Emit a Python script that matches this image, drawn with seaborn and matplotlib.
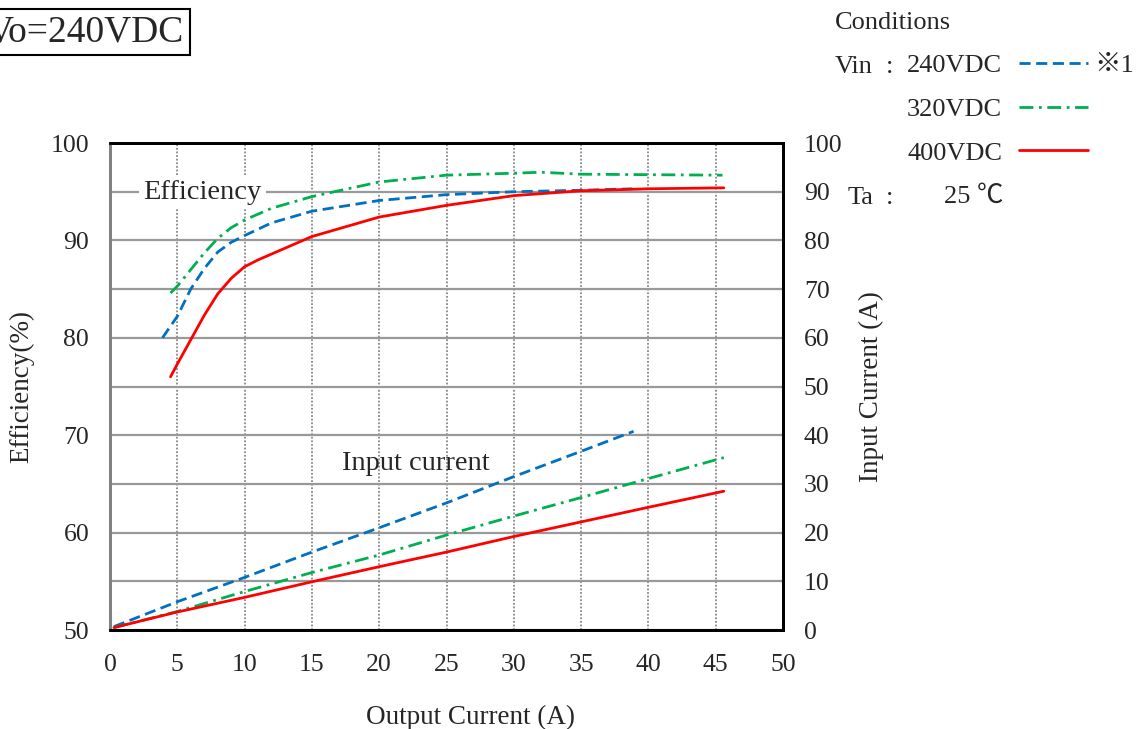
import matplotlib
matplotlib.use("Agg")
import matplotlib.pyplot as plt
import seaborn as sns
import pandas as pd
from matplotlib.ticker import MultipleLocator

# efficiency curves (output current A -> efficiency %)
eff240_x = [3.9, 5, 6, 7, 8, 9, 10, 12, 15, 20, 25, 30, 35, 38.8]
eff240_y = [80.0, 82.2, 85.0, 87.1, 88.8, 89.8, 90.5, 91.8, 93.0, 94.1, 94.7, 95.0, 95.15, 95.3]

eff320_x = [4.5, 5, 6, 7, 8, 9, 10, 12, 15, 20, 25, 30, 32, 35, 40, 45.5]
eff320_y = [84.6, 85.3, 87.0, 88.7, 90.2, 91.3, 92.1, 93.3, 94.5, 96.0, 96.7, 96.9, 97.0, 96.8, 96.75, 96.7]

eff400_x = [4.5, 5, 6, 7, 8, 9, 10, 11, 12, 15, 20, 25, 30, 35, 40, 45.6]
eff400_y = [76.0, 77.3, 79.8, 82.3, 84.5, 86.1, 87.3, 88.0, 88.6, 90.4, 92.4, 93.6, 94.6, 95.1, 95.3, 95.4]

# input current curves (output current A -> input current A)
cur240_x = [0.3, 5, 10, 15, 20, 25, 30, 35, 38.9]
cur240_y = [0.7, 5.8, 10.8, 16.0, 21.0, 26.1, 31.5, 36.7, 40.8]

cur320_x = [0.3, 5, 10, 15, 20, 25, 30, 35, 40, 45.6]
cur320_y = [0.5, 3.8, 7.9, 11.8, 15.4, 19.5, 23.4, 27.2, 31.1, 35.4]

cur400_x = [0.3, 5, 10, 15, 20, 25, 30, 35, 40, 45.6]
cur400_y = [0.5, 3.7, 6.7, 9.9, 13.0, 16.0, 19.2, 22.2, 25.2, 28.5]

sns.set_style("white")
plt.rcParams['font.family'] = ['Liberation Serif', 'Noto Sans CJK JP', 'DejaVu Sans']

c_blue = '#0070C0'
c_green = '#00B050'
c_red = '#FF0000'
fs = 19

fig = plt.figure(figsize=(11.36, 7.29), dpi=100)
ax1 = fig.add_axes([0.0968, 0.1358, 0.5925, 0.668])
ax2 = ax1.twinx()

# efficiency (left axis)
sns.lineplot(x=eff240_x, y=eff240_y, ax=ax1, color=c_blue, lw=2)
sns.lineplot(x=eff320_x, y=eff320_y, ax=ax1, color=c_green, lw=2)
sns.lineplot(x=eff400_x, y=eff400_y, ax=ax1, color=c_red, lw=2)
l = ax1.get_lines()
l[0].set_dashes((4, 2))
l[1].set_dashes((5, 2, 1, 2))

# input current (right axis)
sns.lineplot(x=cur240_x, y=cur240_y, ax=ax2, color=c_blue, lw=2)
sns.lineplot(x=cur320_x, y=cur320_y, ax=ax2, color=c_green, lw=2)
sns.lineplot(x=cur400_x, y=cur400_y, ax=ax2, color=c_red, lw=2)
l2 = ax2.get_lines()
l2[0].set_dashes((4, 2))
l2[1].set_dashes((5, 2, 1, 2))

ax1.set_xlim(0, 50)
ax1.set_ylim(50, 100)
ax2.set_ylim(0, 100)
ax1.xaxis.set_major_locator(MultipleLocator(5))
ax1.yaxis.set_major_locator(MultipleLocator(10))
ax1.yaxis.set_minor_locator(MultipleLocator(5))
ax2.yaxis.set_major_locator(MultipleLocator(10))

ax1.set_axisbelow(True)
ax1.grid(True, which='both', axis='y', color='#999999', lw=1.6, ls='-')
ax1.grid(True, which='major', axis='x', color='#888888', lw=1.3, ls=(0, (1.0, 1.0)))
ax2.grid(False)

ax1.tick_params(axis='both', which='both', length=0, labelsize=18.5)
ax1.tick_params(axis='x', pad=17)
ax1.tick_params(axis='y', pad=15)
ax2.tick_params(axis='y', length=0, labelsize=18.5, pad=15)

for a in (ax1, ax2):
    for s in a.spines.values():
        s.set_color('black')
        s.set_linewidth(2)
    a.spines['left'].set_color('#808080')

ax1.set_xlabel('Output Current (A)', fontsize=19.5, labelpad=21, x=0.535)
ax1.set_ylabel('Efficiency(%)', fontsize=19.5, labelpad=12)
ax2.set_ylabel('Input Current (A)', fontsize=19.5, labelpad=12)

ax1.text(6.85, 94.9, 'Efficiency', fontsize=20.5, ha='center', va='center',
         bbox=dict(facecolor='white', edgecolor='none', pad=3), zorder=5)
ax1.text(22.7, 67.1, 'Input current', fontsize=20.5, ha='center', va='center', zorder=5)

# title box
fig.text(184 / 1136, 1 - 32 / 729, 'Vo=240VDC', fontsize=27, ha='right', va='center',
         bbox=dict(facecolor='white', edgecolor='black', lw=1.5, pad=4))

# conditions block
fig.text(835 / 1136, 1 - 23 / 729, 'Conditions', fontsize=fs, ha='left', va='center')
fig.text(835 / 1136, 1 - 67 / 729, 'Vin', fontsize=fs, ha='left', va='center')
fig.text(886 / 1136, 1 - 67 / 729, ':', fontsize=fs, ha='left', va='center')
fig.text(848 / 1136, 1 - 198 / 729, 'Ta', fontsize=fs, ha='left', va='center')
fig.text(886 / 1136, 1 - 198 / 729, ':', fontsize=fs, ha='left', va='center')
fig.text(1003 / 1136, 1 - 197 / 729, '25 ℃', fontsize=fs, ha='right', va='center')
fig.text(1094 / 1136, 1 - 66 / 729, '※1', fontsize=fs, ha='left', va='center')

fig.legend(handles=[l[0], l[1], l[2]], labels=['240VDC', '320VDC', '400VDC'],
           loc='upper left', bbox_to_anchor=(907 / 1136, 1 - 54 / 729),
           frameon=False, markerfirst=False, fontsize=fs, handlelength=2.6,
           handletextpad=0.64, labelspacing=0.76, borderpad=0, borderaxespad=0)

fig.savefig('out.png', dpi=100)
